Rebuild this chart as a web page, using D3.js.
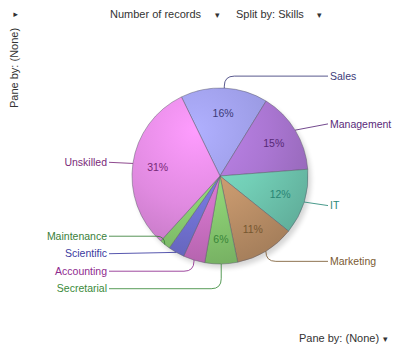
<!DOCTYPE html>
<html>
<head>
<meta charset="utf-8">
<script src="https://cdn.jsdelivr.net/npm/d3@7"></script>
<style>
  html, body { margin: 0; padding: 0; background: #fff; }
  svg text { font-family: "Liberation Sans", Arial, sans-serif; }
</style>
</head>
<body>
<svg id="chart" width="400" height="350"></svg>
<script>
// Share of records per skill, in drawing order (clockwise from the top)
const skills = ["Sales", "Management", "IT", "Marketing", "Secretarial",
                "Accounting", "Scientific", "Maintenance", "Unskilled"];
const records = [16, 15, 12, 11, 6, 4, 3, 2, 31];
const fillColors = ["#9b9be4", "#aa76d2", "#72ceb6", "#c4966c", "#8cd074",
                    "#d274ca", "#7474d8", "#8cd074", "#e08ae0"];
const inkColors = ["#3c3c7a", "#5a2a7a", "#2a8a78", "#7a5a32", "#3a8a3a",
                   "#8e2a8e", "#3a3aa0", "#3a803a", "#7a2a7a"];

const svg = d3.select("#chart");
const cx = 220, cy = 176, R = 88;

const data = skills.map((s, i) => ({ skill: s, value: records[i], fill: fillColors[i], ink: inkColors[i] }));
const total = d3.sum(records);

// ---- toolbar texts -------------------------------------------------------
const font = 11;
const toolbar = svg.append("g").attr("font-size", font).attr("fill", "#333");
toolbar.append("text").attr("x", 110).attr("y", 18).text("Number of records");
toolbar.append("text").attr("x", 215).attr("y", 18).attr("font-size", 9).text("▾");
toolbar.append("text").attr("x", 236).attr("y", 18).text("Split by: Skills");
toolbar.append("text").attr("x", 317).attr("y", 18).attr("font-size", 9).text("▾");

svg.append("text").attr("font-size", font).attr("fill", "#333")
  .attr("transform", "translate(18,108) rotate(-90)").text("Pane by: (None)");
svg.append("text").attr("font-size", 9).attr("fill", "#333")
  .attr("transform", "translate(18,17) rotate(-90)").text("▾");

svg.append("text").attr("font-size", font).attr("fill", "#333")
  .attr("x", 299).attr("y", 342).text("Pane by: (None)");
svg.append("text").attr("font-size", 9).attr("fill", "#333")
  .attr("x", 383).attr("y", 342).text("▾");

// ---- gradients: light toward the upper left, deeper at the rim ----------
const defs = svg.append("defs");
data.forEach((d, i) => {
  const c = d3.color(d.fill);
  const g = defs.append("radialGradient")
    .attr("id", "g" + i)
    .attr("gradientUnits", "userSpaceOnUse")
    .attr("cx", -25).attr("cy", -45).attr("r", R * 1.55)
    .attr("fx", -25).attr("fy", -45);
  g.append("stop").attr("offset", "0%").attr("stop-color", c.brighter(0.35));
  g.append("stop").attr("offset", "55%").attr("stop-color", c);
  g.append("stop").attr("offset", "100%").attr("stop-color", c.darker(0.45));
});
const blur = defs.append("filter").attr("id", "shadow")
  .attr("x", "-20%").attr("y", "-20%").attr("width", "140%").attr("height", "140%");
blur.append("feGaussianBlur").attr("stdDeviation", 2.5);

// ---- pie -----------------------------------------------------------------
const startAngle = -26 * Math.PI / 180;
const pie = d3.pie().sort(null).value(d => d.value)
  .startAngle(startAngle).endAngle(startAngle + 2 * Math.PI);
const arcs = pie(data);
const arc = d3.arc().innerRadius(0).outerRadius(R);

const plot = svg.append("g").attr("transform", `translate(${cx},${cy})`);
plot.append("circle").attr("cx", 3).attr("cy", 4).attr("r", R)
  .attr("fill", "#000").attr("opacity", 0.16).attr("filter", "url(#shadow)");

plot.selectAll("path.slice").data(arcs).join("path")
  .attr("class", "slice")
  .attr("d", arc)
  .attr("fill", (d, i) => `url(#g${i})`)
  .attr("stroke", "#5a5a6a").attr("stroke-opacity", 0.6).attr("stroke-width", 0.8);

// percentage labels on the larger slices
const labelArc = d3.arc().innerRadius(63).outerRadius(63);
plot.selectAll("text.pct").data(arcs.filter(d => d.value / total >= 0.05)).join("text")
  .attr("class", "pct")
  .attr("transform", d => `translate(${labelArc.centroid(d)})`)
  .attr("text-anchor", "middle").attr("dy", "0.35em")
  .attr("font-size", 10.5)
  .attr("fill", d => d3.color(d.data.ink).darker(0.1))
  .text(d => Math.round(d.value / total * 100) + "%");

// ---- callouts ------------------------------------------------------------
const mid = d => (d.startAngle + d.endAngle) / 2;
const items = arcs.map(d => {
  const a = mid(d);
  let deg = (a * 180 / Math.PI) % 360;
  if (deg > 180) deg -= 360;
  const right = deg > -10 && deg < 175;
  const ex = Math.sin(a) * R, ey = -Math.cos(a) * R;
  const ly = -Math.cos(a) * (R + (right ? 12 : 8));
  return { d, a, ex, ey, ly, right };
});

// spread labels on each side so they keep a fixed vertical spacing
const gap = 17.5;
[true, false].forEach(side => {
  const list = items.filter(o => o.right === side).sort((p, q) => p.ly - q.ly);
  let groups = list.map(o => ({ members: [o], y: o.ly }));
  let changed = true;
  while (changed) {
    changed = false;
    for (let i = 0; i < groups.length - 1; i++) {
      const g1 = groups[i], g2 = groups[i + 1];
      const end1 = g1.y + (g1.members.length - 1) * gap / 2;
      const start2 = g2.y - (g2.members.length - 1) * gap / 2;
      if (start2 - end1 < gap) {
        const members = g1.members.concat(g2.members);
        const y = d3.mean(members, o => o.ly);
        groups.splice(i, 2, { members, y });
        changed = true;
        break;
      }
    }
  }
  groups.forEach(g => {
    const n = g.members.length;
    g.members.forEach((o, k) => { o.ty = g.y + (k - (n - 1) / 2) * gap; });
  });
});

const rightX = 328 - cx, leftX = 109 - cx;
items.forEach(o => {
  const xEnd = o.right ? rightX : leftX;
  const dir = o.right ? 1 : -1;
  const dy = o.ty - o.ey;
  const k = Math.min(Math.abs(dy), 10);
  const path = d3.path();
  path.moveTo(o.ex, o.ey);
  // far-off anchors get an elbow, near ones a straight leader
  if (Math.abs(dy) > 3 && Math.abs(o.ex - xEnd) > 55) {
    path.lineTo(o.ex, o.ty - Math.sign(dy) * k);
    path.quadraticCurveTo(o.ex, o.ty, o.ex + dir * k, o.ty);
  }
  path.lineTo(xEnd, o.ty);
  plot.append("path").attr("d", path.toString())
    .attr("fill", "none").attr("stroke", o.d.data.ink)
    .attr("stroke-opacity", 0.85).attr("stroke-width", 1);
  plot.append("text")
    .attr("x", xEnd + dir * 2).attr("y", o.ty).attr("dy", "0.35em")
    .attr("text-anchor", o.right ? "start" : "end")
    .attr("font-size", 10.5).attr("fill", o.d.data.ink)
    .text(o.d.data.skill);
});
</script>
</body>
</html>
